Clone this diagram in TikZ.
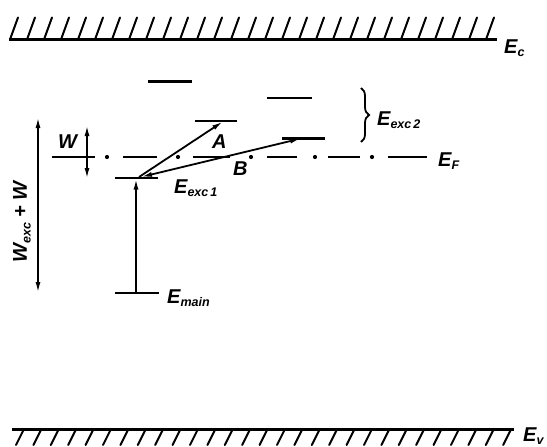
\documentclass[tikz,border=0pt]{standalone}
\usepackage{fontspec}
\setmainfont{Liberation Sans}
\usetikzlibrary{arrows.meta,decorations.pathreplacing}
\newcommand{\lbl}[2]{#1\raisebox{-0.35ex}{\fontsize{12.5}{12.5}\selectfont\bfseries\itshape #2}}
\begin{document}
\begin{tikzpicture}[x=1pt,y=-1pt,
  band/.style={line width=3pt},
  hatchline/.style={line width=2pt,line cap=round},
  level/.style={line width=2.8pt},
  arr/.style={line width=1.8pt,-{Latex[length=11pt,width=5pt]}},
  arrboth/.style={line width=1.8pt,{Latex[length=11pt,width=5pt]}-{Latex[length=11pt,width=5pt]}},
  txt/.style={font=\fontsize{20}{20}\selectfont\bfseries\itshape,inner sep=0pt,anchor=base west}]
\useasboundingbox (0,0) rectangle (547,447);
% conduction band
\coordinate (ca) at (9,39.5); \coordinate (cb) at (497,39.5);
\draw[band] (ca) -- (cb);
\foreach \i in {0,...,28} \draw[hatchline] ({10+17*\i},39.5) -- ++(8,-22);
\node[txt] (Ec) at (504,53) {\lbl{E}{c}};
% valence band
\coordinate (va) at (12,429); \coordinate (vb) at (514,429);
\draw[band] (va) -- (vb);
\foreach \i in {0,...,28} \draw[hatchline] ({24+17.4*\i},429) -- ++(-8,16);
\node[txt] (Ev) at (523,441) {\lbl{E}{v}};
% Fermi level (dash-dot)
\foreach \a/\b in {52/95,123/157,193/230,267/297,328/360,388/427}
  \draw[line width=2pt] (\a,157) -- (\b,157);
\foreach \d in {107,178,251,315,372}
  \fill (\d,157) circle (2.1pt);
\node[txt] (EF) at (438,166) {\lbl{E}{F}};
% levels
\coordinate (l1a) at (148,81.5); \coordinate (l1b) at (192,81.5);
\coordinate (l2a) at (267,98); \coordinate (l2b) at (312,98);
\coordinate (lAa) at (195,121); \coordinate (lAb) at (237,121);
\coordinate (lBa) at (282,138.5); \coordinate (lBb) at (325,138.5);
\coordinate (lxa) at (115,178); \coordinate (lxb) at (158,178);
\coordinate (lma) at (115,293); \coordinate (lmb) at (159,293);
\foreach \p/\q in {l1a/l1b,l2a/l2b,lAa/lAb,lBa/lBb,lxa/lxb,lma/lmb}
  \draw[level] (\p) -- (\q);
% transitions
\coordinate (mainpt) at (136,293);
\coordinate (exc1pt) at (136,178.5);
\draw[arr] (mainpt) -- (exc1pt);
\coordinate (Astart) at (139,177);
\coordinate (Atip) at (223,121.5);
\draw[arr] (Astart) -- (Atip);
\coordinate (Bstart) at (141,177);
\coordinate (Btip) at (301,138.5);
\draw[arrboth] (Bstart) -- (Btip);
\node[txt] (A) at (212,148) {A};
\node[txt] (B) at (233,175) {B};
\node[txt] (Eexc1) at (174,193) {\lbl{E}{exc\,1}};
\node[txt] (Emain) at (167,303) {\lbl{E}{main}};
% brace
\coordinate (brt) at (361,88); \coordinate (brb) at (361,142);
\draw[line width=1.8pt,decorate,decoration={brace,amplitude=8pt}] (brt) -- (brb);
\node[txt] (Eexc2) at (377,125) {\lbl{E}{exc\,2}};
% W arrow
\coordinate (wt) at (87,125); \coordinate (wb) at (87,179);
\draw[arrboth] (wt) -- (wb);
\node[txt] (W) at (58,148) {W};
% Wexc + W arrow
\coordinate (Wt) at (38,117); \coordinate (Wb) at (38,293);
\draw[arrboth] (Wt) -- (Wb);
\node[font=\fontsize{20}{20}\selectfont\bfseries\itshape,inner sep=0pt,rotate=90] (Wlab) at (22,222) {W\raisebox{-0.35ex}{\fontsize{12.5}{12.5}\selectfont\bfseries\itshape exc} + W};
\end{tikzpicture}
\end{document}
